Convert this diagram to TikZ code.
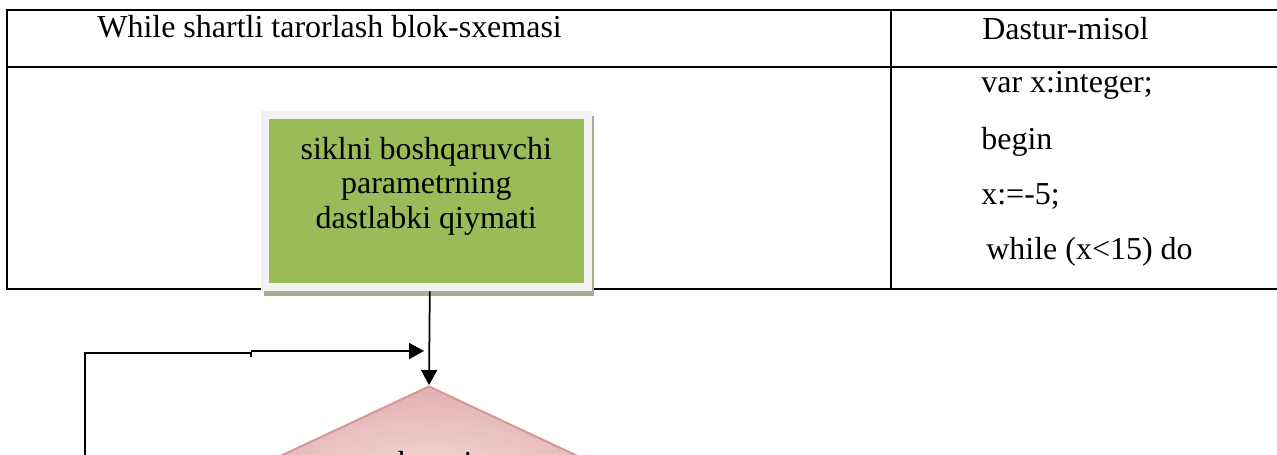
\documentclass[tikz,border=0pt]{standalone}
\usepackage{fontspec}
\setmainfont{Liberation Serif}
\usetikzlibrary{arrows.meta}
\usetikzlibrary{shapes.geometric}
\usetikzlibrary{shadows}

\definecolor{boxgreen}{HTML}{9BBB59}
\definecolor{boxframe}{HTML}{F2F2F2}
\definecolor{boxshadow}{HTML}{A5AE94}
\definecolor{condfill}{HTML}{F3DEDD}
\definecolor{condedge}{HTML}{E2B0AF}
\definecolor{condline}{HTML}{D99694}

\begin{document}
\begin{tikzpicture}[x=0.02cm,y=-0.02cm,
        celltext/.style={inner sep=0,anchor=base west,font=\fontsize{18.2pt}{19.6pt}\selectfont},
        initbox/.style={rectangle,fill=boxgreen,draw=boxframe,line width=0.16cm,inner sep=0,
            minimum width=6.45cm,minimum height=3.45cm,
            drop shadow={shadow xshift=0.05cm,shadow yshift=-0.1cm,fill=boxshadow,draw=boxshadow,opacity=1}},
        condbox/.style={diamond,draw=condline,line width=0.04cm,inner sep=0,
            minimum width=8.52cm,minimum height=4cm,inner color=condfill,outer color=condedge},
        flowline/.style={line width=0.035cm},
        flowarrow/.style={flowline,-{Triangle[length=0.3cm,width=0.32cm]}}]
        \useasboundingbox (0,0) rectangle (1277,455);

        \draw[line width=0.04cm] (1290,10) -- (7,10) -- (7,289) -- (1290,289);
        \draw[line width=0.04cm] (7,67) -- (1290,67);
        \draw[line width=0.04cm] (891,10) -- (891,289);

        \node[celltext] (head1) at (97,38) {While shartli tarorlash blok-sxemasi};
        \node[celltext] (head2) at (982,40) {Dastur-misol};
        \node[celltext] (code1) at (981,93) {var x:integer;};
        \node[celltext] (code2) at (981,150) {begin};
        \node[celltext] (code3) at (981,205) {x:=-5;};
        \node[celltext] (code4) at (986,260) {while (x<15) do};

        \node[initbox] (start) at (426.3,201.2) {};
        \node[celltext,anchor=center,align=center] (startlbl) at ([yshift=0.3cm]start.center)
            {siklni boshqaruvchi\\parametrning\\dastlabki qiymati};

        \node[condbox] (cond) at (429,486) {};
        \node[celltext,anchor=base] (condlbl) at (429,473) {shartni};

        \coordinate (loopfoot) at (85,470);
        \coordinate (loopstep) at (251,353);
        \coordinate (entry) at (424,351);

        \draw[flowarrow] ([xshift=0.07cm]start.south) -- (cond.north);
        \draw[flowline] (loopfoot) |- (loopstep) -- ++(0,4);
        \draw[flowarrow] (loopstep |- entry) -- (entry);
\end{tikzpicture}
\end{document}
